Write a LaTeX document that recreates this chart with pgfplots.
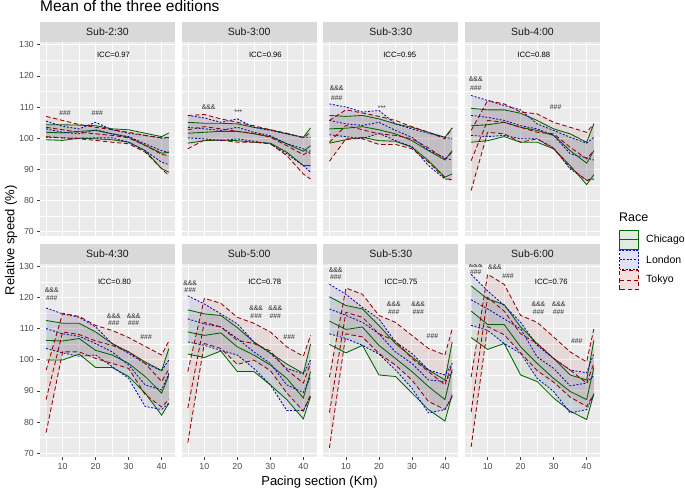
\documentclass[border=0pt]{standalone}
\usepackage{fontspec}
\setmainfont{Liberation Sans}
\usepackage{pgfplots}
\usepackage{pgfplotstable}
\pgfplotsset{compat=1.18}
\usepgfplotslibrary{fillbetween}

\definecolor{cgreen}{RGB}{0,100,0}
\definecolor{lblue}{RGB}{10,10,170}
\definecolor{tred}{RGB}{150,0,0}
\definecolor{panelbg}{RGB}{235,235,235}
\definecolor{stripbg}{RGB}{217,217,217}

% columns: Chicago upper/mean/lower, London upper/mean/lower, Tokyo upper/mean/lower
\pgfplotstableread{
x cu cm cl lu lm ll tu tm tl
5 104.3 101.9 99.5 105.5 103.0 100.3 107.0 103.5 100.5
10 104.3 101.7 99.3 103.8 101.9 100.1 105.7 102.7 100.1
15 104.2 102.2 100.0 103.0 101.4 100.0 104.4 101.9 99.8
20 104.0 102.5 99.8 105.1 102.7 100.1 103.5 101.4 99.3
25 103.0 101.4 99.5 102.7 101.4 100.1 102.7 100.9 98.7
30 102.7 100.3 98.7 101.6 100.5 98.7 101.9 100.1 98.2
35 101.6 97.7 96.0 100.9 98.2 96.0 100.9 97.7 95.5
40 100.5 95.2 90.2 100.0 96.0 92.3 100.1 94.8 90.2
42.195 101.7 95.5 89.1 100.1 95.5 91.5 100.3 94.4 88.0
}\subA
\pgfplotstableread{
x cu cm cl lu lm ll tu tm tl
5 105.1 101.6 98.4 107.3 103.5 100.1 107.3 102.7 96.6
10 104.8 101.9 99.2 106.5 103.0 99.8 107.6 103.7 99.4
15 104.8 102.2 99.4 105.1 102.5 99.2 106.2 103.0 99.4
20 104.6 102.2 99.2 106.2 103.5 99.8 105.1 102.2 98.7
25 103.5 101.4 98.7 103.5 101.9 99.0 104.0 101.6 98.7
30 102.7 100.5 98.4 102.5 100.8 98.2 102.7 100.3 98.2
35 101.4 98.2 95.5 101.4 98.2 95.0 101.6 97.6 94.4
40 100.3 95.8 91.2 100.3 96.6 91.2 100.1 94.7 88.5
42.195 103.3 97.6 91.2 100.3 95.0 89.1 101.9 96.0 86.9
}\subB
\pgfplotstableread{
x cu cm cl lu lm ll tu tm tl
5 107.3 103.0 98.4 111.0 105.7 101.1 105.7 98.7 92.6
10 107.0 103.2 99.5 110.0 104.6 100.5 109.1 104.1 99.8
15 107.3 103.7 100.3 108.4 104.1 99.8 108.1 102.7 99.8
20 106.2 102.7 99.2 108.9 105.1 101.6 107.0 101.4 98.0
25 104.6 101.4 99.0 104.6 102.5 99.2 105.7 100.9 98.0
30 103.5 99.2 97.1 103.0 100.3 97.3 103.7 99.8 96.6
35 101.9 96.0 92.8 101.6 96.2 91.2 101.9 96.9 92.3
40 100.3 93.0 87.5 100.3 93.7 86.9 99.8 93.3 87.2
42.195 103.3 96.0 88.5 99.8 93.0 86.6 103.3 95.5 86.6
}\subC
\pgfplotstableread{
x cu cm cl lu lm ll tu tm tl
5 109.6 104.0 98.7 113.7 107.3 100.9 102.5 92.8 83.2
10 109.1 104.3 99.2 112.1 106.7 100.5 112.1 105.7 101.9
15 109.1 105.1 100.5 110.5 105.7 100.9 111.0 105.1 101.4
20 108.0 103.5 98.7 109.1 104.0 99.8 108.4 103.5 98.7
25 105.7 102.5 98.7 104.6 103.0 99.8 107.8 101.9 99.8
30 103.0 100.9 96.6 102.5 100.9 96.9 105.1 101.4 96.6
35 101.4 96.0 91.2 100.3 95.0 90.1 103.5 97.1 90.6
40 98.7 92.0 85.1 98.4 93.7 86.6 101.9 93.4 86.4
42.195 104.6 96.0 88.3 100.3 93.0 86.9 104.6 96.0 86.9
}\subD
\pgfplotstableread{
x cu cm cl lu lm ll tu tm tl
5 112.6 106.2 99.9 116.6 110.0 103.6 96.7 87.2 76.6
10 111.7 106.0 99.9 114.7 108.3 102.2 114.9 108.9 102.5
15 111.7 106.8 101.8 113.6 107.5 101.1 113.9 108.1 102.5
20 108.9 103.0 97.5 110.5 105.2 101.5 111.0 106.0 100.4
25 105.2 101.5 97.5 105.2 102.5 97.8 109.4 104.6 98.8
30 102.5 98.8 94.6 102.0 98.3 94.0 107.1 102.5 97.2
35 99.3 94.6 89.3 98.8 91.9 85.0 104.3 98.8 88.8
40 96.5 89.3 82.2 96.5 90.3 84.0 101.5 93.0 84.8
42.195 103.6 95.0 86.0 99.9 95.6 86.0 106.0 97.0 87.2
}\subE
\pgfplotstableread{
x cu cm cl lu lm ll tu tm tl
5 116.0 108.9 101.8 120.5 113.1 105.7 96.2 84.5 73.4
10 114.7 107.8 100.7 117.9 111.5 104.6 119.7 112.0 105.2
15 114.2 108.6 102.8 114.7 110.5 103.0 118.1 110.5 103.6
20 110.3 104.1 96.2 111.5 106.8 101.5 113.6 106.2 98.5
25 105.7 101.5 96.2 105.7 102.5 97.2 111.7 105.2 99.9
30 102.2 98.3 91.9 102.0 98.8 91.9 108.9 102.8 96.5
35 98.6 94.0 87.2 97.2 91.9 83.7 104.1 96.7 89.3
40 95.6 87.7 81.0 95.4 89.5 83.7 101.1 92.5 83.5
42.195 105.0 96.2 88.2 99.9 94.6 88.2 107.8 98.8 88.8
}\subF
\pgfplotstableread{
x cu cm cl lu lm ll tu tm tl
5 120.2 112.4 104.9 124.2 116.3 108.3 94.4 83.0 71.7
10 117.4 109.7 102.2 121.0 114.2 106.8 123.0 115.2 108.3
15 116.3 110.5 104.6 116.8 112.0 104.6 121.0 113.6 107.3
20 111.0 104.6 95.1 113.1 108.3 101.8 114.2 108.3 102.0
25 105.2 100.4 94.6 105.7 102.5 96.7 112.0 106.0 98.3
30 100.9 96.2 89.3 102.0 98.8 90.9 107.8 100.4 93.5
35 96.7 91.4 84.0 96.7 93.5 82.9 103.6 96.2 86.6
40 93.5 87.2 80.3 95.1 93.0 84.0 101.5 91.9 84.0
42.195 105.7 96.9 88.8 98.8 96.0 88.2 109.9 98.8 88.2
}\subG
\pgfplotstableread{
x cu cm cl lu lm ll tu tm tl
5 123.7 115.6 107.1 127.4 119.2 111.0 94.4 83.2 72.0
10 119.5 111.3 103.3 122.1 116.3 109.4 127.4 120.0 110.6
15 117.7 111.3 105.2 117.4 113.1 105.2 124.2 115.6 108.0
20 110.5 104.1 95.1 112.0 109.9 102.0 114.2 108.3 102.2
25 105.2 98.8 93.0 104.6 100.9 94.0 112.0 105.2 96.5
30 100.4 94.0 87.7 100.4 97.2 89.8 107.3 100.4 92.8
35 95.1 89.8 83.5 96.7 91.6 82.9 102.5 96.7 88.0
40 93.5 87.2 80.8 95.8 92.5 84.0 99.3 92.5 85.0
42.195 106.2 97.5 89.1 102.0 95.0 88.8 109.9 98.8 89.0
}\subH

\tikzset{
  icc/.style={font=\fontsize{7.7}{9}\selectfont},
  sig/.style={font=\fontsize{6.8}{8}\selectfont, text=black!85},
  chik/.style={cgreen, line width=0.85pt},
  lonk/.style={lblue, line width=0.85pt, dash pattern=on 2pt off 1.6pt},
  tokk/.style={tred, line width=0.85pt, dash pattern=on 4.5pt off 2.6pt},
}
\pgfplotsset{
  chi/.style={chik, forget plot},
  lon/.style={lonk, forget plot},
  tok/.style={tokk, forget plot},
  facet/.style={
    scale only axis, width=135pt, height=193.5pt, anchor=south west,
    xmin=3.14, xmax=44.05, ymin=68.7, ymax=130.8,
    axis background/.style={fill=panelbg},
    axis line style={draw=none},
    xtick={10,20,30,40}, ytick={70,80,...,130},
    minor xtick={5,15,25,35}, minor ytick={75,85,...,125},
    grid=both,
    major grid style={white, line width=0.9pt},
    minor grid style={white, line width=0.45pt},
    tick style={color=black!75, line width=0.5pt},
    tick align=outside, major tick length=2.6pt, minor tick length=0pt,
    xtick pos=left, ytick pos=left,
    tick label style={font=\fontsize{8.8}{10}\selectfont, text=black!70},
    /pgf/number format/assume math mode=true,
    set layers,
    every axis title/.style={at={(0.5,1)}, anchor=south, fill=stripbg,
      minimum width=135pt, minimum height=20pt, inner sep=0pt,
      text=black!90, font=\fontsize{10.5}{12}\selectfont},
  },
  notop/.style={xticklabels={}, xtick style={draw=none}},
  noleft/.style={yticklabels={}, ytick style={draw=none}},
}

\newcommand\ribbons{%
  \addplot[fill=cgreen, fill opacity=0.08, draw=none, forget plot] fill between[of=cu and cl];
  \addplot[fill=lblue, fill opacity=0.08, draw=none, forget plot] fill between[of=lu and ll];
  \addplot[fill=tred, fill opacity=0.08, draw=none, forget plot] fill between[of=tu and tl];
}
\newcommand\drawcities[1]{%
  \addplot[chi, name path=cu] table[x=x,y=cu]{#1};
  \addplot[chi] table[x=x,y=cm]{#1};
  \addplot[chi, name path=cl] table[x=x,y=cl]{#1};
  \addplot[lon, name path=lu] table[x=x,y=lu]{#1};
  \addplot[lon] table[x=x,y=lm]{#1};
  \addplot[lon, name path=ll] table[x=x,y=ll]{#1};
  \addplot[tok, name path=tu] table[x=x,y=tu]{#1};
  \addplot[tok] table[x=x,y=tm]{#1};
  \addplot[tok, name path=tl] table[x=x,y=tl]{#1};
  \ribbons
}
\newcommand\twosig[3]{%
  \node[sig] at (axis cs:#1,#2) {\&\&\&};
  \node[sig] at (axis cs:#1,#3) {\#\#\#};
}
% one legend key: style, fill colour, centre y, label
\newcommand\legkey[4]{%
  \draw[#1, fill=#2, fill opacity=0.12] (619.5pt,#3pt-9.6pt) rectangle (638.5pt,#3pt+9.6pt);
  \draw[#1] (619.5pt,#3pt) -- (638.5pt,#3pt);
  \node[anchor=west, inner sep=0pt, font=\fontsize{10.5}{12}\selectfont] at (646pt,#3pt) {#4};
}

\begin{document}
\begin{tikzpicture}
\path (0,0) rectangle (685pt,490pt);

\begin{axis}[facet, notop, at={(40pt,254.5pt)}, title={Sub-2:30}]
\drawcities{\subA}
\node[icc] at (axis cs:25.4,126.8) {ICC=0.97};
\node[sig] at (axis cs:10.7,108.1) {\#\#\#};
\node[sig] at (axis cs:20.5,108.1) {\#\#\#};
\end{axis}

\begin{axis}[facet, notop, noleft, at={(181.7pt,254.5pt)}, title={Sub-3:00}]
\drawcities{\subB}
\node[icc] at (axis cs:28.5,126.8) {ICC=0.96};
\node[sig] at (axis cs:11.3,110.0) {\&\&\&};
\node[sig] at (axis cs:20.3,108.2) {***};
\end{axis}

\begin{axis}[facet, notop, noleft, at={(323.3pt,254.5pt)}, title={Sub-3:30}]
\drawcities{\subC}
\node[icc] at (axis cs:26.3,126.8) {ICC=0.95};
\twosig{7.2}{116.1}{113.0}
\node[sig] at (axis cs:20.9,109.6) {***};
\end{axis}

\begin{axis}[facet, notop, noleft, at={(465pt,254.5pt)}, title={Sub-4:00}]
\drawcities{\subD}
\node[icc] at (axis cs:24.0,126.8) {ICC=0.88};
\twosig{6.4}{118.8}{115.9}
\node[sig] at (axis cs:30.6,109.8) {\#\#\#};
\end{axis}

\begin{axis}[facet, at={(40pt,33pt)}, title={Sub-4:30}]
\drawcities{\subE}
\node[icc] at (axis cs:25.7,125.1) {ICC=0.80};
\twosig{6.7}{122.2}{119.6}
\twosig{25.5}{113.9}{111.8}
\twosig{31.5}{113.9}{111.8}
\node[sig] at (axis cs:35.3,107.3) {\#\#\#};
\end{axis}

\begin{axis}[facet, noleft, at={(181.7pt,33pt)}, title={Sub-5:00}]
\drawcities{\subF}
\node[icc] at (axis cs:28.3,125.1) {ICC=0.78};
\twosig{5.7}{124.7}{122.2}
\twosig{25.7}{116.4}{114.1}
\twosig{31.5}{116.4}{114.1}
\node[sig] at (axis cs:35.7,107.3) {\#\#\#};
\end{axis}

\begin{axis}[facet, noleft, at={(323.3pt,33pt)}, title={Sub-5:30}]
\drawcities{\subG}
\node[icc] at (axis cs:26.7,124.9) {ICC=0.75};
\twosig{6.9}{128.8}{126.5}
\twosig{24.5}{117.8}{115.4}
\twosig{31.9}{117.8}{115.4}
\node[sig] at (axis cs:36.2,107.7) {\#\#\#};
\end{axis}

\begin{axis}[facet, noleft, at={(465pt,33pt)}, title={Sub-6:00}]
\drawcities{\subH}
\node[icc] at (axis cs:29.3,124.9) {ICC=0.76};
\twosig{6.4}{130.2}{128.0}
\node[sig] at (axis cs:12.2,129.7) {\&\&\&};
\node[sig] at (axis cs:16.2,126.8) {\#\#\#};
\twosig{25.4}{117.8}{115.4}
\twosig{31.5}{117.8}{115.4}
\node[sig] at (axis cs:37.0,105.9) {\#\#\#};
\end{axis}

\node[anchor=base west, inner sep=0pt, font=\fontsize{15.5}{18}\selectfont] at (40pt,479pt) {Mean of the three editions};
\node[rotate=90, inner sep=0pt, font=\fontsize{13}{15}\selectfont] at (11pt,250pt) {Relative speed (\%)};
\node[inner sep=0pt, font=\fontsize{13}{15}\selectfont] at (319.5pt,8.5pt) {Pacing section (Km)};
\node[anchor=west, inner sep=0pt, font=\fontsize{12.5}{14}\selectfont] at (619pt,273.3pt) {Race};
\legkey{chik}{cgreen}{250.7}{Chicago}
\legkey{lonk}{lblue}{230.5}{London}
\legkey{tokk}{tred}{210.2}{Tokyo}
\end{tikzpicture}
\end{document}
